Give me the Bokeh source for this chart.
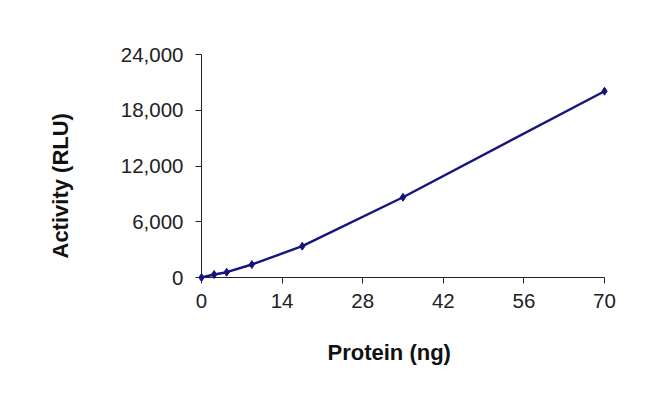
from bokeh.plotting import figure
from bokeh.models import Range1d, FixedTicker, NumeralTickFormatter, Title
from bokeh.embed import file_html
from bokeh.resources import INLINE

protein_ng = [0, 2.1875, 4.375, 8.75, 17.5, 35, 70]
activity_rlu = [0, 320, 570, 1400, 3370, 8640, 20050]
x_ticks = [0, 14, 28, 42, 56, 70]
y_ticks = [0, 6000, 12000, 18000, 24000]
x_title = "Protein (ng)"
y_title = "Activity (RLU)"

NAVY = "#14147f"
FONT = "Liberation Sans"
W, H = 634, 394

p = figure(width=W, height=H, output_backend="svg", toolbar_location=None,
           x_range=Range1d(0, 70), y_range=Range1d(0, 24000),
           min_border_left=201, min_border_right=30, min_border_top=54, min_border_bottom=117)
p.outline_line_color = None
p.grid.visible = False
p.background_fill_color = "white"
p.border_fill_color = "white"

p.line(protein_ng, activity_rlu, line_color=NAVY, line_width=2.4, level="overlay")
p.scatter(protein_ng, activity_rlu, marker="diamond", size=8, color=NAVY, level="overlay")

for ax in (p.xaxis[0], p.yaxis[0]):
    ax.axis_line_color = "#222222"
    ax.axis_line_width = 1
    ax.major_tick_line_color = "#222222"
    ax.major_tick_out = 6
    ax.major_tick_in = 0
    ax.minor_tick_line_color = None
    ax.major_label_text_font = FONT
    ax.major_label_text_font_size = "20.5px"
    ax.major_label_text_color = "#222222"

p.xaxis.ticker = FixedTicker(ticks=x_ticks)
p.yaxis.ticker = FixedTicker(ticks=y_ticks)
p.yaxis.formatter = NumeralTickFormatter(format="0,0")
p.xaxis.major_label_standoff = 10
p.yaxis.major_label_standoff = 12

p.add_layout(Title(text=x_title, align="left", offset=126, standoff=55,
                   text_font=FONT, text_font_size="22px", text_font_style="bold",
                   text_color="#111111"), "below")
p.add_layout(Title(text=y_title, align="left", offset=19, standoff=90,
                   text_font=FONT, text_font_size="22px", text_font_style="bold",
                   text_color="#111111"), "left")

open("out.html", "w").write(file_html(p, INLINE))
